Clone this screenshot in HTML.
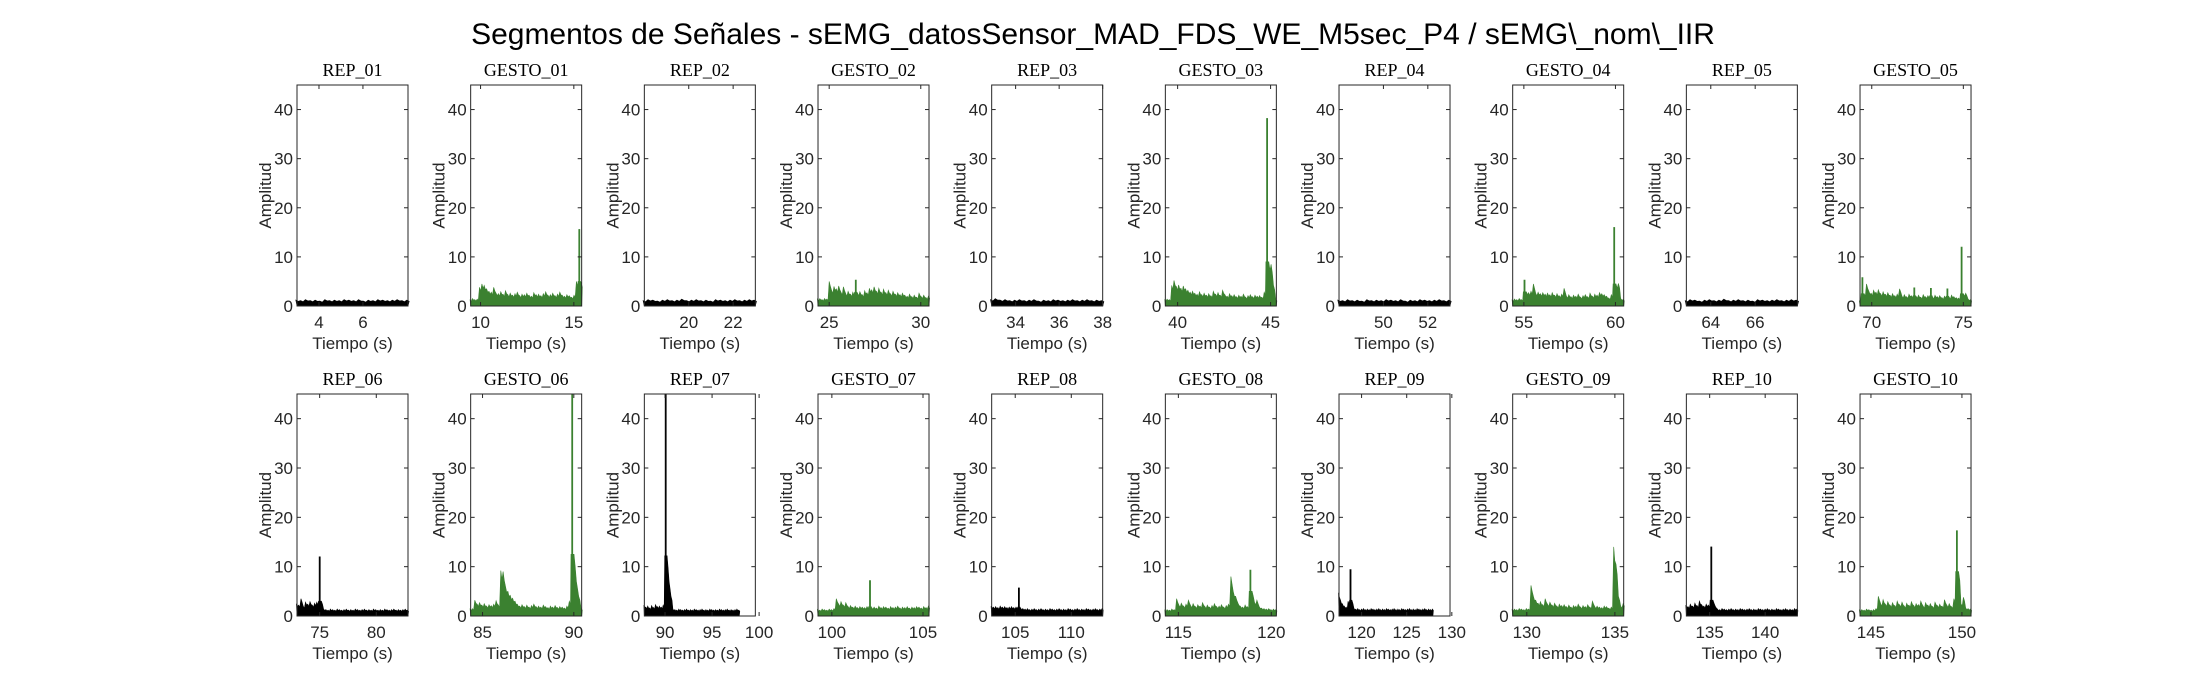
<!DOCTYPE html>
<html><head><meta charset="utf-8">
<style>
html,body{margin:0;padding:0;background:#fff;}
svg{display:block;}
text{font-family:"Liberation Sans",sans-serif;fill:#262626;}
.ptitle{font-family:"Liberation Serif",serif;font-size:18px;fill:#000;}
</style></head>
<body>
<svg id="fig" width="2187" height="688" viewBox="0 0 2187 688">
<text x="1093" y="44" text-anchor="middle" style="font-size:30px;fill:#000">Segmentos de Señales - sEMG_datosSensor_MAD_FDS_WE_M5sec_P4 / sEMG\_nom\_IIR</text>
</svg>
<script>
// ---- data ----
const panelNames = ["REP_01","GESTO_01","REP_02","GESTO_02","REP_03","GESTO_03","REP_04","GESTO_04","REP_05","GESTO_05",
"REP_06","GESTO_06","REP_07","GESTO_07","REP_08","GESTO_08","REP_09","GESTO_09","REP_10","GESTO_10"];
const xLimits = [[3,8.05],[9.47,15.42],[18,23],[24.39,30.45],[32.9,38],[39.34,45.31],[48,53],[54.39,60.45],[62.9,67.9],[69.36,75.42],
[73,82.8],[84.35,90.43],[87.8,99.6],[99.24,105.33],[102.9,112.8],[114.3,120.27],[117.5,129.8],[129.2,135.5],[132.9,142.9],[144.4,150.5]];
const dataSpans = [[3,8.05],[9.47,15.42],[18,23],[24.39,30.45],[32.9,38],[39.34,45.31],[48,53],[54.39,60.45],[62.9,67.9],[69.36,75.42],
[73,82.8],[84.35,90.43],[87.8,97.9],[99.24,105.33],[102.9,112.8],[114.3,120.27],[117.5,127.9],[129.2,135.5],[132.9,142.9],[144.4,150.5]];
const xTicks = [[4,6],[10,15],[20,22],[25,30],[34,36,38],[40,45],[50,52],[55,60],[64,66],[70,75],
[75,80],[85,90],[90,95,100],[100,105],[105,110],[115,120],[120,125,130],[130,135],[135,140],[145,150]];
const yTicks = [0,10,20,30,40];
const yMax = 45;
const flatA = [1.2,1.1,1.3,1.1,1.2,1.0,1.3,1.1,1.2,1.1,1.3,1.2,1.1,1.3,1.0,1.2,1.1,1.3,1.2,1.1,1.2,1.3,1.1,1.2];
const flatB = [1.1,1.3,1.2,1.0,1.2,1.3,1.1,1.2,1.4,1.1,1.2,1.3,1.1,1.2,1.0,1.3,1.2,1.1,1.2,1.3,1.1,1.2,1.3,1.2];
const flatC = [1.3,1.5,1.2,1.3,1.1,1.2,1.3,1.1,1.2,1.3,1.0,1.2,1.1,1.3,1.2,1.1,1.2,1.3,1.1,1.2,1.3,1.1,1.2,1.1];
const g01 = [1.2,1.5,1.3,1.4,3.8,4.5,4.2,3.5,3.0,2.8,3.8,2.6,2.5,2.9,2.4,3.1,2.3,2.6,2.2,2.5,2.8,2.1,2.4,2.3,2.6,2.2,2.0,2.7,2.3,2.4,2.1,2.5,2.9,2.2,2.3,2.6,2.1,2.4,2.8,2.2,2.0,2.3,2.1,1.8,2.2,5.0,15.6,4.8];
const g02 = [1.4,1.5,1.3,1.5,1.4,5.0,3.2,4.0,3.5,4.1,2.8,3.9,2.5,3.0,2.4,2.8,5.3,2.6,2.9,2.3,3.1,2.7,3.6,3.3,3.9,3.0,3.6,2.8,3.4,2.7,3.2,2.5,3.0,2.4,2.7,2.3,2.6,2.2,2.0,2.4,1.9,2.2,1.8,2.6,1.9,2.2,1.7,2.0];
const g03 = [1.3,1.4,1.3,4.2,5.2,4.0,4.3,3.6,4.1,3.5,3.2,2.8,3.0,2.6,2.4,2.9,2.3,2.6,2.2,2.5,2.1,3.0,2.4,2.7,2.2,3.2,2.3,2.0,2.5,2.1,2.3,1.9,2.2,2.0,2.4,1.8,2.1,2.3,1.9,2.2,2.0,2.1,1.8,2.8,38.2,9.0,8.5,4.2,1.3];
const g04 = [1.2,1.4,1.3,1.5,1.3,5.3,2.9,2.7,3.0,4.5,2.6,2.8,2.5,2.7,2.4,2.6,2.3,2.7,2.2,2.5,2.1,2.4,3.6,2.0,2.3,1.9,2.2,2.0,2.4,1.8,2.1,2.3,1.9,2.6,2.0,2.4,2.2,2.7,2.5,2.3,2.0,1.6,2.3,16.0,4.5,4.6,1.5,1.3];
const g05 = [1.0,5.8,2.5,4.5,3.0,2.6,3.2,2.8,3.3,2.5,2.9,2.4,2.7,2.2,2.5,2.1,2.4,3.5,2.0,2.3,1.9,2.4,2.1,3.7,2.0,2.2,1.8,2.3,1.9,2.1,3.6,1.8,2.2,1.9,2.1,1.7,2.0,3.5,1.8,2.2,1.9,1.7,1.6,12.0,2.5,2.6,1.4,1.3];
const r06 = [2.5,2.2,3.5,2.0,2.8,2.4,2.9,2.2,2.6,2.8,12.0,3.0,1.4,1.3,1.2,1.4,1.3,1.2,1.4,1.3,1.2,1.3,1.4,1.2,1.3,1.2,1.4,1.3,1.2,1.3,1.4,1.2,1.3,1.2,1.4,1.3,1.2,1.3,1.2,1.4,1.3,1.2,1.3,1.4,1.2,1.3,1.2,1.3,1.4,1.2];
const g06 = [1.4,1.5,3.2,2.4,2.7,2.2,2.5,2.0,2.3,2.1,2.4,3.1,2.2,9.2,9.0,6.0,5.0,4.2,3.6,3.0,2.4,2.0,2.3,1.9,2.2,1.8,2.1,2.4,1.9,2.0,1.8,2.2,1.9,1.7,2.0,1.8,2.1,1.7,1.9,1.8,1.6,2.0,3.0,45,12.5,7.0,4.0,1.5];
const r07 = [2.2,1.8,2.0,1.6,2.1,1.7,2.3,1.9,2.0,1.8,2.2,45,12.2,7.0,4.0,1.4,1.3,1.2,1.4,1.3,1.2,1.3,1.4,1.2,1.3,1.2,1.4,1.3,1.2,1.3,1.4,1.2,1.3,1.2,1.4,1.3,1.2,1.3,1.2,1.4,1.3,1.2,1.3,1.4,1.2,1.3,1.2,1.3,1.4,1.2];
const g07 = [1.3,1.2,1.4,1.3,1.2,1.4,1.3,1.5,3.5,2.4,2.9,2.2,2.7,1.9,2.1,1.8,2.0,1.7,1.9,1.8,1.7,1.9,7.2,1.7,1.8,1.6,2.0,1.7,1.9,1.8,1.6,1.9,1.7,1.8,2.0,1.6,1.8,1.7,1.9,1.6,1.8,1.7,1.9,1.8,1.6,1.9,1.7,2.0];
const r08 = [2.0,1.8,1.9,1.7,2.0,1.8,1.9,1.7,1.8,1.9,1.7,1.8,5.7,1.6,1.5,1.4,1.5,1.3,1.4,1.5,1.3,1.4,1.5,1.3,1.4,1.3,1.5,1.4,1.3,1.4,1.5,1.3,1.4,1.3,1.5,1.4,1.3,1.4,1.5,1.3,1.4,1.3,1.5,1.4,1.3,1.4,1.5,1.3,1.4,1.5];
const g08 = [1.2,1.3,1.2,1.4,1.3,3.5,2.2,2.6,2.0,2.4,3.2,2.1,2.5,1.9,2.3,2.0,2.7,1.9,2.2,1.8,2.1,2.5,1.9,2.0,2.3,1.8,2.1,2.4,8.0,5.0,4.0,2.6,2.0,1.8,2.2,1.9,9.3,5.0,2.8,3.2,1.9,1.6,1.5,1.4,1.5,1.3,1.4,1.3];
const r09 = [4.7,3.2,2.5,2.0,1.8,3.0,9.4,3.2,1.6,1.4,1.5,1.3,1.4,1.5,1.3,1.4,1.3,1.5,1.4,1.3,1.4,1.5,1.3,1.4,1.3,1.5,1.4,1.3,1.4,1.5,1.3,1.4,1.3,1.5,1.4,1.3,1.4,1.5,1.3,1.4,1.3,1.5,1.4,1.3,1.4,1.5,1.3,1.4,1.3,1.4];
const g09 = [1.3,1.4,1.3,1.5,1.4,1.3,1.5,1.4,6.2,4.0,3.2,2.6,2.9,2.3,3.5,2.4,2.8,2.2,2.6,2.0,2.4,2.1,2.3,1.9,2.2,1.8,2.1,2.0,2.4,1.8,2.1,1.9,2.3,1.8,3.0,1.9,2.0,1.8,1.7,2.0,1.9,1.6,1.8,14.0,10.5,4.0,2.0,2.5];
const r10 = [2.2,1.9,2.4,2.0,2.6,2.1,3.0,2.3,2.0,2.4,2.2,14.0,3.2,2.0,1.4,1.3,1.5,1.4,1.3,1.4,1.5,1.3,1.4,1.3,1.5,1.4,1.3,1.4,1.5,1.3,1.4,1.3,1.5,1.4,1.3,1.4,1.5,1.3,1.4,1.3,1.5,1.4,1.3,1.4,1.5,1.3,1.4,1.3,1.5,1.4];
const g10 = [1.2,1.3,1.2,1.4,1.3,1.2,1.3,1.5,4.0,2.5,3.3,2.4,2.9,2.2,2.7,2.1,3.0,2.3,2.8,2.0,2.6,2.2,2.9,2.1,2.5,2.3,3.0,2.0,2.7,2.2,2.5,1.9,2.8,2.1,2.4,2.0,3.3,2.2,2.5,1.9,3.5,17.3,9.0,2.5,3.8,1.6,1.5,1.4];
const seriesValues = [flatA,g01,flatB,g02,flatC,g03,flatA,g04,flatB,g05,r06,g06,r07,g07,r08,g08,r09,g09,r10,g10];

// ---- layout ----
const NS = "http://www.w3.org/2000/svg";
const svg = document.getElementById("fig");
const L0 = 297, STEP = 173.67, W = 111;
const rowTop = [85, 394], rowBot = [306, 616];
function mk(tag, attrs, parent){ const e=document.createElementNS(NS,tag); for(const k in attrs) e.setAttribute(k,attrs[k]); (parent||svg).appendChild(e); return e; }

panelNames.forEach((name, i) => {
  const row = Math.floor(i/10), col = i%10;
  const left = L0 + col*STEP, right = left + W, top = rowTop[row], bot = rowBot[row];
  const [x0,x1] = xLimits[i];
  const xs = t => left + (t - x0)/(x1 - x0)*W;
  const ys = v => bot - Math.min(v, yMax)/yMax*(bot - top);
  const isRep = name.startsWith("REP");
  const g = mk("g", {});
  
  

  // series: dense base fill plus narrow spike stems
  const vals = seriesValues[i];
  const [d0,d1] = dataSpans[i];
  const dt = (d1 - d0)/(vals.length - 1);
  const col_ = isRep ? "#000" : "#3b8130";
  let pts = xs(d0).toFixed(1)+","+bot+" ";
  vals.forEach((v,k)=>{
    const xc = xs(d0+k*dt), hw = 0.5*(xs(d0+dt)-xs(d0));
    const prev = k>0 ? vals[k-1] : v, next = k<vals.length-1 ? vals[k+1] : v;
    const isSpike = v > 1.6*Math.max(prev,next) && v > 3;
    if (isSpike){
      const base = Math.max(prev,next);
      pts += (xc-hw).toFixed(1)+","+ys(base).toFixed(1)+" ";
      pts += (xc-0.6).toFixed(1)+","+ys(base).toFixed(1)+" ";
      pts += (xc-0.6).toFixed(1)+","+ys(v).toFixed(1)+" ";
      pts += (xc+0.6).toFixed(1)+","+ys(v).toFixed(1)+" ";
      pts += (xc+0.6).toFixed(1)+","+ys(base).toFixed(1)+" ";
      pts += (xc+hw).toFixed(1)+","+ys(base).toFixed(1)+" ";
    } else {
      pts += (xc-hw*0.5).toFixed(1)+","+ys(v).toFixed(1)+" ";
      pts += (xc+hw*0.5).toFixed(1)+","+ys(v*0.8).toFixed(1)+" ";
    }
  });
  pts += xs(d1).toFixed(1)+","+bot;
  const poly = mk("polygon", {points: pts, fill: col_, stroke: col_, "stroke-width": 0.6}, g);
  
  

  // box
  const box = mk("rect", {x:left, y:top, width:W, height:bot-top, fill:"none", stroke:"#262626", "stroke-width":1}, g);
  
  

  // y ticks
  yTicks.forEach(v=>{
    const y = ys(v);
    if (v>0){ mk("line",{x1:left,x2:left+4,y1:y,y2:y,stroke:"#262626"},g); mk("line",{x1:right-4,x2:right,y1:y,y2:y,stroke:"#262626"},g); }
    const t = mk("text",{x:left-4,y:y+6,"text-anchor":"end","font-size":17},g);
    t.textContent = v;
    
    
  });
  // x ticks
  xTicks[i].forEach(v=>{
    const x = xs(v);
    mk("line",{x1:x,x2:x,y1:bot,y2:bot-4,stroke:"#262626"},g);
    mk("line",{x1:x,x2:x,y1:top,y2:top+4,stroke:"#262626"},g);
    const t = mk("text",{x:x,y:bot+22,"text-anchor":"middle","font-size":17},g);
    t.textContent = v;
    
    
  });
  // labels
  const yl = mk("text",{x:0,y:0,"text-anchor":"middle","font-size":17,transform:`translate(${left-26},${(top+bot)/2}) rotate(-90)`},g);
  yl.textContent = "Amplitud";
  
  
  const xl = mk("text",{x:left+W/2,y:bot+43,"text-anchor":"middle","font-size":17},g);
  xl.textContent = "Tiempo (s)";
  
  
  const tt = mk("text",{x:left+W/2,y:top-9,"text-anchor":"middle",class:"ptitle"},g);
  tt.textContent = name;
  
  
});
</script>
</body></html>
